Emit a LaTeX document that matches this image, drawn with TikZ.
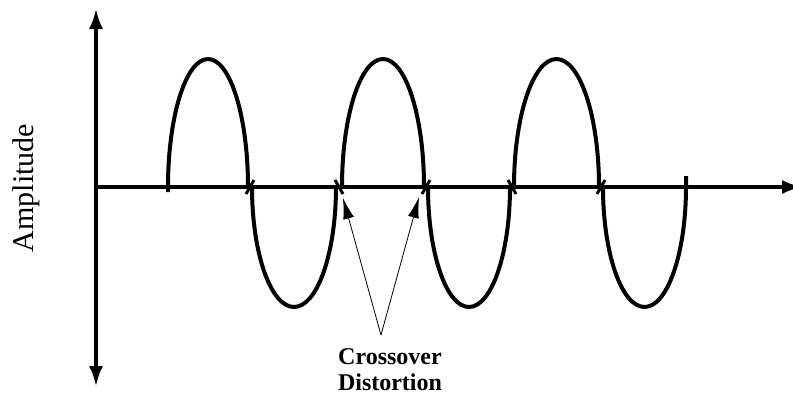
\documentclass[tikz,border=0pt]{standalone}
\usepackage{fontspec}
\setmainfont{Liberation Serif}
\usetikzlibrary{arrows.meta}

\begin{document}
\begin{tikzpicture}[x=1pt,y=1pt,line join=round,
    axis/.style={line width=4pt,-{Latex[length=21pt,width=14pt]}},
    wave/.style={line width=4pt},
    tick/.style={line width=3pt},
    pointer/.style={line width=0.8pt,-{Latex[length=21pt,width=11pt]}}]
  \useasboundingbox (0,-210) rectangle (793,187);
  \coordinate (O) at (96,0);
  \coordinate (Yt) at (96,179);
  \coordinate (Yb) at (96,-200);
  \coordinate (Xr) at (803,0);
  \coordinate (V) at (381,-148);
  \coordinate (D1) at (343,-11);
  \coordinate (D2) at (419,-10);
  \draw[axis] (O) -- (Yt);
  \draw[axis] (O) -- (Yb);
  \draw[axis] (O) -- (Xr);
  % half waves
  \draw[wave] (168,-5) -- (168,0) arc[start angle=180,end angle=0,x radius=40,y radius=128];
  \draw[wave] (252,0) arc[start angle=180,end angle=360,x radius=42,y radius=120];
  \draw[wave] (342,0) arc[start angle=180,end angle=0,x radius=41,y radius=128];
  \draw[wave] (428,0) arc[start angle=180,end angle=360,x radius=41,y radius=120];
  \draw[wave] (514,0) arc[start angle=180,end angle=0,x radius=42.5,y radius=128];
  \draw[wave] (603,0) arc[start angle=180,end angle=360,x radius=41.5,y radius=120] -- (686,11);
  % crossover kinks
  \draw[tick] (246,-7) -- (254,7);
  \draw[tick] (335,7) -- (343,-7);
  \draw[tick] (422,-7) -- (430,7);
  \draw[tick] (508,7) -- (516,-7);
  \draw[tick] (597,-7) -- (605,7);
  \draw[pointer] (V) -- (D1);
  \draw[pointer] (V) -- (D2);
  \node[rotate=90,font=\fontsize{30}{32}\selectfont] (amp) at (26,-1) {Amplitude};
  \node[align=center,font=\bfseries\fontsize{24}{26}\selectfont] (lbl) at (390,-183) {Crossover\\Distortion};
\end{tikzpicture}
\end{document}
